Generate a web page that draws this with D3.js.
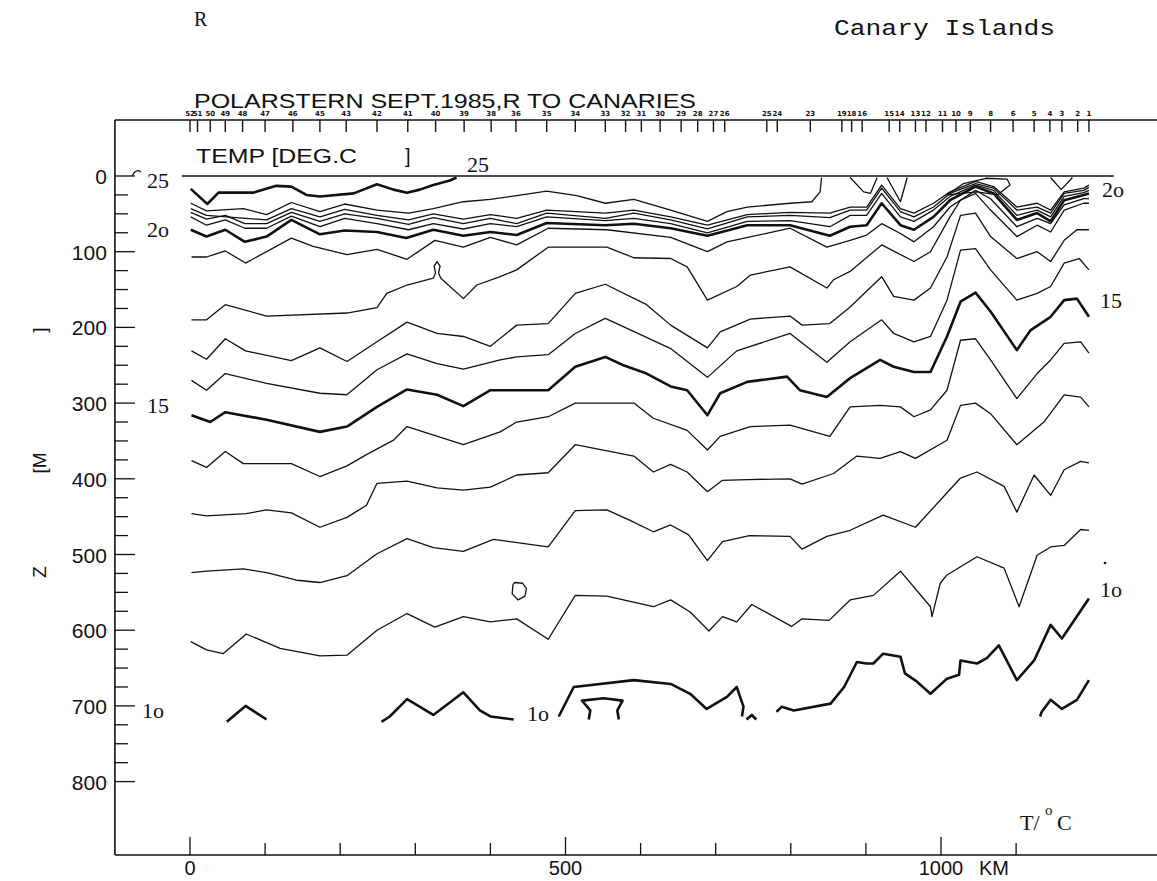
<!DOCTYPE html>
<html><head><meta charset="utf-8">
<script src="https://cdn.jsdelivr.net/npm/d3@7"></script>
<style>body{margin:0;background:#fff}</style>
</head><body>
<svg id="c" width="1157" height="881"></svg>
<script>
// ---------- data (distance km, depth m) ----------
const stationLabels = ["52","51","50","49","48","47","46","45","43","42","41","40","39","38","36","35","34","33","32","31","30","29","28","27","26","25","24","23","19","18","16","15","14","13","12","11","10","9","8","6","5","4","3","2","1"];
const stationKm = [0,10,27,47,70,100,137,173,208,249,290,327,365,401,434,475,513,553,580,601,626,654,676,697,712,768,782,826,868,881,895,931,945,966,980,1002,1020,1039,1066,1096,1124,1145,1161,1182,1197];

const depthTicks = [0,100,200,300,400,500,600,700,800];
const distTicks = [0,100,200,300,400,500,600,700,800,900,1000,1100];
const distLabels = [0,500,1000];

const surface = [[-11,0],[1230,0]];
const t25 = [[1,17],[23,37],[38,22],[84,22],[115,13],[135,14],[155,25],[173,27],[218,23],[249,11],[271,18],[289,22],[306,18],[324,12],[346,6],[355,2]];
const t24 = [[1,36],[22,46],[71,43],[102,51],[135,35],[173,47],[206,37],[249,45],[291,49],[324,43],[364,34],[400,31],[435,26],[475,20],[515,26],[553,36],[591,31],[640,45],[689,60],[715,47],[742,41],[799,36],[828,34],[839,21],[841,2]];
const t24b = [[879,2],[897,21],[906,23],[915,2]];
const t24c = [[928,2],[946,34],[955,2]];
const t24d = [[1146,2],[1160,18],[1175,2]];
const t24e = [[1008,25],[1030,10],[1060,3],[1088,4],[1092,12],[1075,25],[1048,21],[1008,25]];
const t23 = [[1,43],[22,52],[102,58],[135,43],[173,54],[206,44],[249,52],[291,58],[324,50],[364,57],[400,51],[435,56],[475,45],[553,49],[591,45],[640,54],[689,65],[742,51],[799,48],[852,49],[879,41],[901,41],[921,12],[946,43],[964,49],[990,36],[1012,21],[1046,7],[1070,14],[1101,41],[1128,36],[1146,45],[1164,21],[1190,16],[1197,12]];
const t22 = [[1,48],[22,57],[47,52],[73,63],[102,63],[135,48],[173,60],[206,50],[249,56],[291,64],[324,55],[364,63],[400,56],[435,63],[475,49],[553,56],[591,49],[640,58],[689,70],[742,54],[799,52],[852,55],[879,45],[901,45],[921,16],[946,47],[964,54],[990,41],[1012,23],[1046,10],[1070,16],[1101,45],[1128,41],[1146,49],[1164,23],[1190,19],[1197,15]];
const t21 = [[1,54],[22,65],[47,58],[73,69],[102,69],[135,53],[173,67],[206,56],[249,63],[291,71],[324,63],[364,70],[400,63],[435,67],[475,54],[553,59],[591,56],[640,63],[689,75],[742,60],[799,59],[852,67],[879,52],[901,52],[921,23],[946,54],[964,60],[990,45],[1012,27],[1046,12],[1070,19],[1101,52],[1128,45],[1146,54],[1164,27],[1190,22],[1197,19]];
const t20 = [[1,71],[22,80],[47,71],[73,87],[102,80],[135,58],[173,77],[206,72],[249,74],[288,82],[324,71],[364,79],[400,74],[435,78],[475,62],[553,65],[591,63],[640,69],[689,79],[742,65],[799,65],[852,79],[879,67],[901,65],[921,36],[946,65],[964,71],[990,54],[1012,32],[1046,14],[1070,23],[1101,58],[1128,49],[1146,60],[1164,32],[1190,25],[1197,23]];
const t19 = [[2,107],[22,107],[47,99],[74,115],[135,82],[164,93],[209,104],[249,97],[289,110],[326,85],[364,94],[400,81],[435,91],[477,69],[555,71],[640,81],[689,100],[715,87],[799,69],[848,94],[879,85],[901,78],[921,63],[946,76],[964,87],[990,67],[1012,41],[1046,19],[1066,30],[1101,67],[1128,56],[1146,63],[1164,38],[1190,30],[1197,30]];
const t18 = [[2,190],[22,190],[47,170],[102,185],[209,181],[249,174],[262,155],[289,144],[324,135],[327,128],[325,119],[329,113],[333,119],[331,128],[334,135],[364,162],[382,144],[413,133],[435,124],[477,94],[555,94],[591,108],[640,109],[662,120],[689,164],[728,146],[746,131],[799,120],[848,148],[857,137],[879,126],[921,91],[964,113],[986,100],[1012,54],[1026,32],[1046,23],[1066,45],[1101,80],[1128,65],[1146,74],[1164,45],[1190,36],[1197,36]];
const t17 = [[2,231],[22,242],[47,215],[74,231],[135,244],[173,227],[209,245],[249,219],[289,193],[329,208],[364,212],[400,225],[435,197],[477,195],[513,155],[553,143],[608,170],[640,197],[689,227],[706,206],[746,189],[799,185],[815,197],[852,195],[879,173],[921,133],[937,159],[964,164],[986,148],[1008,107],[1026,52],[1046,49],[1066,80],[1101,109],[1128,100],[1146,113],[1164,85],[1181,71],[1197,71]];
const t16 = [[2,270],[22,283],[47,261],[102,274],[173,287],[209,289],[249,256],[289,235],[329,248],[364,255],[413,243],[435,239],[477,236],[513,208],[553,188],[577,199],[640,228],[689,266],[728,231],[799,208],[848,246],[879,219],[921,190],[937,208],[964,219],[986,212],[1008,164],[1026,98],[1046,96],[1066,124],[1101,164],[1128,155],[1146,146],[1164,115],[1184,109],[1197,124]];
const t15 = [[2,316],[27,325],[47,312],[102,322],[173,338],[209,331],[249,305],[289,282],[329,289],[364,304],[400,283],[435,283],[477,283],[513,252],[553,239],[577,250],[608,261],[640,278],[662,283],[689,316],[706,287],[742,272],[795,265],[812,283],[848,292],[879,267],[919,243],[937,252],[964,259],[986,259],[1008,212],[1026,166],[1046,154],[1066,179],[1101,230],[1119,204],[1146,186],[1164,164],[1181,162],[1197,186]];
const t14 = [[2,376],[22,385],[47,364],[71,380],[135,380],[173,397],[209,383],[235,368],[271,349],[289,331],[364,355],[413,338],[435,325],[477,318],[513,300],[591,300],[617,320],[662,336],[689,362],[706,344],[746,331],[799,329],[852,344],[879,305],[919,303],[946,305],[964,318],[986,309],[1008,283],[1026,217],[1046,215],[1066,243],[1101,294],[1128,261],[1146,243],[1164,221],[1186,219],[1197,234]];
const t13 = [[2,446],[22,449],[75,446],[102,441],[135,445],[173,464],[209,451],[235,435],[249,406],[289,403],[329,412],[364,415],[400,411],[435,395],[477,392],[513,355],[591,370],[617,391],[640,381],[662,391],[689,417],[709,402],[742,401],[799,400],[815,407],[857,393],[888,370],[919,373],[946,364],[966,373],[1008,349],[1026,303],[1046,300],[1066,314],[1101,355],[1137,325],[1164,289],[1186,292],[1197,305]];
const t12 = [[2,524],[22,522],[71,519],[102,524],[142,534],[173,537],[209,528],[249,499],[289,479],[324,491],[364,496],[404,480],[477,490],[513,442],[555,441],[586,455],[617,470],[640,461],[664,474],[689,508],[709,483],[745,475],[799,476],[815,493],[848,476],[879,468],[923,448],[966,464],[1026,399],[1048,391],[1084,410],[1101,444],[1124,395],[1146,422],[1164,388],[1186,377],[1197,379]];
const t11 = [[1,615],[22,626],[44,631],[75,605],[120,624],[173,634],[209,633],[249,600],[289,578],[326,596],[364,582],[400,589],[435,585],[477,612],[513,554],[555,555],[617,569],[640,560],[666,576],[691,601],[709,582],[728,589],[748,566],[801,595],[815,585],[851,587],[879,560],[910,554],[946,522],[986,569],[988,582],[999,538],[1008,527],[1048,503],[1084,518],[1104,569],[1128,501],[1146,490],[1164,488],[1186,467],[1197,468]];
const t11loop = [[430,540],[429,552],[437,560],[446,555],[448,545],[443,538],[432,537],[430,540]];
const t10a = [[49,721],[74,700],[102,718]];
const t10b = [[255,721],[266,714],[289,691],[324,712],[364,682],[386,706],[400,714],[431,718]];
const t10c = [[491,714],[511,675],[591,666],[640,671],[666,684],[688,704],[715,688],[728,675],[737,701],[735,714]];
const t10d = [[531,718],[533,706],[522,693],[551,690],[576,693],[569,706],[571,718]];
const t10e = [[741,718],[748,712],[754,718]];
const t10f = [[781,708],[788,701],[804,706],[853,697],[871,675],[888,642],[901,644],[910,644],[923,631],[946,635],[952,657],[968,668],[986,684],[1008,664],[1024,659],[1026,640],[1048,644],[1061,637],[1077,620],[1101,666],[1124,640],[1146,593],[1161,611],[1197,558]];
const t10g = [[1132,714],[1134,708],[1146,692],[1161,704],[1181,692],[1197,666]];

const contours = [
  {t:25,p:t25},{t:24,p:t24},{t:24,p:t24b},{t:24,p:t24c},{t:24,p:t24d},{t:24,p:t24e},
  {t:23,p:t23},{t:22,p:t22},{t:21,p:t21},{t:20,p:t20},{t:19,p:t19},{t:18,p:t18},
  {t:17,p:t17},{t:16,p:t16},{t:15,p:t15},{t:14,p:t14},{t:13,p:t13},{t:12,p:t12},
  {t:11,p:t11},{t:11,p:t11loop},
  {t:10,p:t10a},{t:10,p:t10b},{t:10,p:t10c},{t:10,p:t10d},{t:10,p:t10e},{t:10,p:t10f},{t:10,p:t10g}
];

// ---------- drawing ----------
const svg = d3.select("#c");
const x = d3.scaleLinear().domain([0,1000]).range([190,941]);
const y = d3.scaleLinear().domain([0,800]).range([176,781.6]);
const X0 = x(-100), XR = 1157, YT = 120, YB = 855;
const ink = "#111";
const sans = "Liberation Sans, Arial, sans-serif";
const serif = "Liberation Serif, serif";

// frame
svg.append("line").attr("x1",X0).attr("x2",X0).attr("y1",YT).attr("y2",YB).attr("stroke",ink).attr("stroke-width",1.6);
svg.append("line").attr("x1",X0).attr("x2",XR).attr("y1",YT).attr("y2",YT).attr("stroke",ink).attr("stroke-width",1.4);
svg.append("line").attr("x1",X0).attr("x2",XR).attr("y1",YB).attr("y2",YB).attr("stroke",ink).attr("stroke-width",1.4);

// depth axis
const minor = d3.range(0,801,25);
svg.selectAll(".ytk").data(minor).join("line")
  .attr("x1",X0).attr("x2",d=> d%100===0 ? X0+20 : X0+13)
  .attr("y1",d=>y(d)).attr("y2",d=>y(d)).attr("stroke",ink).attr("stroke-width",1.3);
svg.selectAll(".ylb").data(depthTicks).join("text")
  .attr("x",X0-8).attr("y",d=>y(d)+8).attr("text-anchor","end")
  .attr("font-family",sans).attr("font-size",21).attr("fill",ink)
  .text(d=>d);
[["Z",572],["[M",463],["]",330]].forEach(([s,cy])=>{
  svg.append("text").attr("transform",`translate(46,${cy}) rotate(-90)`).attr("text-anchor","middle")
    .attr("font-family",sans).attr("font-size",19).attr("fill",ink).text(s);
});

// distance axis
svg.selectAll(".xtk").data(distTicks).join("line")
  .attr("x1",d=>x(d)).attr("x2",d=>x(d)).attr("y1",YB)
  .attr("y2",d=> d%500===0 ? YB-18 : YB-12).attr("stroke",ink).attr("stroke-width",1.3);
svg.selectAll(".xlb").data(distLabels).join("text")
  .attr("x",d=>x(d)).attr("y",875).attr("text-anchor","middle")
  .attr("font-family",sans).attr("font-size",20).attr("fill",ink)
  .text(d=>d);
svg.append("text").attr("x",x(1000)+38).attr("y",875)
  .attr("font-family",sans).attr("font-size",20).attr("fill",ink).text("KM");

// stations
svg.selectAll(".stk").data(stationKm).join("line")
  .attr("x1",d=>x(d)).attr("x2",d=>x(d)).attr("y1",YT).attr("y2",YT+12).attr("stroke",ink).attr("stroke-width",1.4);
svg.selectAll(".slb").data(stationLabels).join("text")
  .attr("x",(d,i)=>x(stationKm[i])).attr("y",YT-4).attr("text-anchor","middle")
  .attr("font-family","DejaVu Sans, sans-serif").attr("font-size",7).attr("font-weight","bold").attr("fill",ink)
  .text(d=>d);

// contours
const line = d3.line().x(d=>x(d[0])).y(d=>y(d[1]));
svg.append("path").attr("d",line(surface)).attr("fill","none").attr("stroke",ink).attr("stroke-width",1.6);
svg.selectAll(".iso").data(contours).join("path")
  .attr("d",d=>line(d.p)).attr("fill","none").attr("stroke",ink)
  .attr("stroke-linejoin","round")
  .attr("stroke-width",d=> d.t%5===0 ? 2.6 : 1.3);

// titles
svg.append("text").attr("x",194).attr("y",26).attr("font-family",serif).attr("font-size",20).attr("fill",ink).text("R");
svg.append("text").attr("x",834).attr("y",35).attr("font-family","Liberation Mono, monospace").attr("font-size",22)
  .attr("textLength",221).attr("lengthAdjust","spacingAndGlyphs").attr("fill",ink).text("Canary Islands");
svg.append("text").attr("x",194).attr("y",108).attr("font-family",sans).attr("font-size",21)
  .attr("textLength",502).attr("lengthAdjust","spacingAndGlyphs").attr("fill",ink).text("POLARSTERN SEPT.1985,R TO CANARIES");
svg.append("text").attr("x",196).attr("y",163).attr("font-family",sans).attr("font-size",20)
  .attr("textLength",161).attr("lengthAdjust","spacingAndGlyphs").attr("fill",ink).text("TEMP [DEG.C");
svg.append("text").attr("x",405).attr("y",163).attr("font-family",sans).attr("font-size",20).attr("fill",ink).text("]");

// contour labels
const lab = (t,xx,yy,fs)=>svg.append("text").attr("x",xx).attr("y",yy).attr("font-family",serif).attr("font-size",fs||22).attr("fill",ink).text(t);
lab("25",147,188); lab("25",467,172);
svg.append("path").attr("d","M132,176 Q136,168 141,172").attr("fill","none").attr("stroke",ink).attr("stroke-width",1.2);
lab("2o",147,237); lab("15",147,413); lab("1o",142,718); lab("1o",527,721);
lab("2o",1102,197); lab("15",1100,308); lab("1o",1100,597);
svg.append("circle").attr("cx",1105).attr("cy",563).attr("r",1.3).attr("fill",ink);
lab("T/",1020,830);
lab("o",1045,815,15);
lab("C",1057,830);
</script>
</body></html>
